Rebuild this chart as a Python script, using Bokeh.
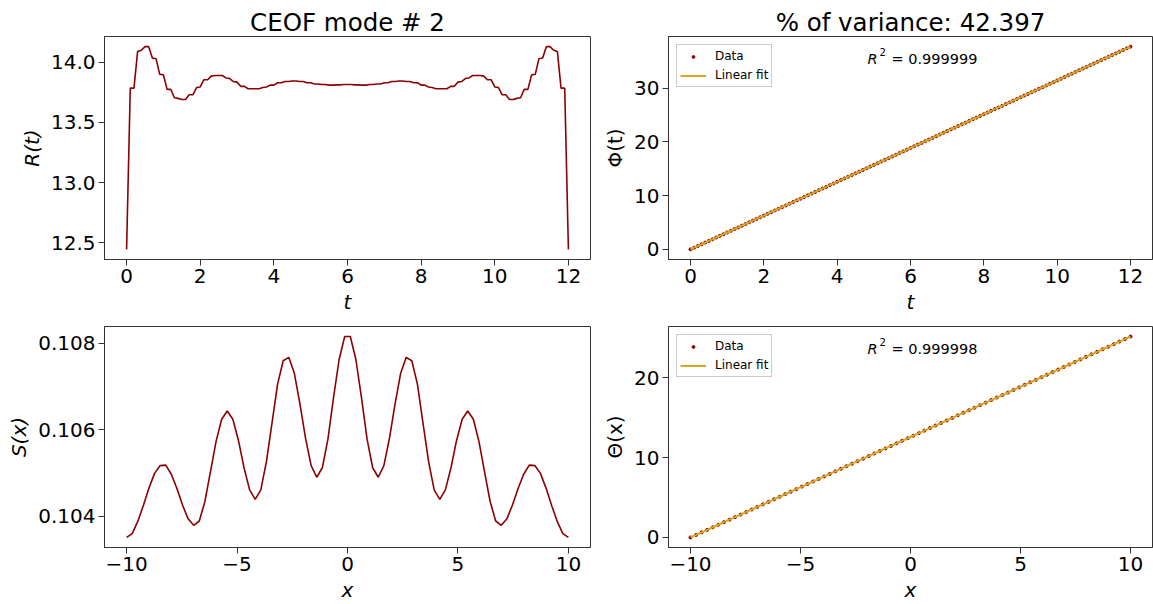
import numpy as np
from bokeh.plotting import figure
from bokeh.layouts import gridplot
from bokeh.models import Range1d, FixedTicker, PrintfTickFormatter, Label, Legend, LegendItem, ColumnDataSource
from bokeh.embed import file_html
from bokeh.resources import INLINE

# ---------------- data ----------------
t = np.linspace(0, 12, 121)
R_t = [12.445, 13.785, 13.785, 14.09, 14.10, 14.13, 14.13, 14.035, 14.03, 13.90,
       13.895, 13.775, 13.775, 13.705, 13.70, 13.69, 13.69, 13.73, 13.73, 13.79,
       13.795, 13.855, 13.855, 13.885, 13.89, 13.89, 13.89, 13.87, 13.865, 13.84,
       13.835, 13.80, 13.80, 13.78, 13.78, 13.78, 13.78, 13.79, 13.795, 13.81,
       13.81, 13.83, 13.83, 13.84, 13.84, 13.845, 13.845, 13.84, 13.84, 13.83,
       13.83, 13.82, 13.82, 13.815, 13.815, 13.81, 13.81, 13.812, 13.812, 13.815,
       13.815,
       13.815, 13.812, 13.812, 13.81, 13.81, 13.815, 13.815, 13.82, 13.82, 13.83,
       13.83, 13.84, 13.84, 13.845, 13.845, 13.84, 13.84, 13.83, 13.83, 13.81,
       13.81, 13.795, 13.79, 13.78, 13.78, 13.78, 13.78, 13.80, 13.80, 13.835,
       13.84, 13.865, 13.87, 13.89, 13.89, 13.89, 13.885, 13.855, 13.855, 13.795,
       13.79, 13.73, 13.73, 13.69, 13.69, 13.70, 13.705, 13.775, 13.775, 13.895,
       13.90, 14.03, 14.035, 14.13, 14.13, 14.10, 14.09, 13.785, 13.785, 12.445]

Phi_t = [0.00, 0.31, 0.63, 0.94, 1.26, 1.57, 1.88, 2.20, 2.51, 2.83,
         3.14, 3.46, 3.77, 4.08, 4.40, 4.71, 5.03, 5.34, 5.65, 5.97,
         6.28, 6.60, 6.91, 7.23, 7.54, 7.85, 8.17, 8.48, 8.80, 9.11,
         9.42, 9.74, 10.05, 10.37, 10.68, 11.00, 11.31, 11.62, 11.94, 12.25,
         12.57, 12.88, 13.19, 13.51, 13.82, 14.14, 14.45, 14.77, 15.08, 15.39,
         15.71, 16.02, 16.34, 16.65, 16.96, 17.28, 17.59, 17.91, 18.22, 18.54,
         18.85, 19.16, 19.48, 19.79, 20.11, 20.42, 20.73, 21.05, 21.36, 21.68,
         21.99, 22.31, 22.62, 22.93, 23.25, 23.56, 23.88, 24.19, 24.50, 24.82,
         25.13, 25.45, 25.76, 26.08, 26.39, 26.70, 27.02, 27.33, 27.65, 27.96,
         28.27, 28.59, 28.90, 29.22, 29.53, 29.85, 30.16, 30.47, 30.79, 31.10,
         31.42, 31.73, 32.04, 32.36, 32.67, 32.99, 33.30, 33.62, 33.93, 34.24,
         34.56, 34.87, 35.19, 35.50, 35.81, 36.13, 36.44, 36.76, 37.07, 37.38,
         37.70]

x = np.linspace(-10, 10, 80)
S_x = [0.10351, 0.10360, 0.10388, 0.10425, 0.10465, 0.10499, 0.10517, 0.10518, 0.10497, 0.10464,
       0.10426, 0.10394, 0.10379, 0.10389, 0.10434, 0.10503, 0.10573, 0.10624, 0.10643, 0.10624,
       0.10575, 0.10512, 0.10461, 0.10439, 0.10461, 0.10526, 0.10615, 0.10705, 0.10759, 0.10767,
       0.10730, 0.10659, 0.10580, 0.10517, 0.10490, 0.10512, 0.10578, 0.10674, 0.10762, 0.10815,
       0.10815, 0.10762, 0.10674, 0.10578, 0.10512, 0.10490, 0.10517, 0.10580, 0.10659, 0.10730,
       0.10767, 0.10759, 0.10705, 0.10615, 0.10526, 0.10461, 0.10439, 0.10461, 0.10512, 0.10575,
       0.10624, 0.10643, 0.10624, 0.10573, 0.10503, 0.10434, 0.10389, 0.10379, 0.10394, 0.10426,
       0.10464, 0.10497, 0.10518, 0.10517, 0.10499, 0.10465, 0.10425, 0.10388, 0.10360, 0.10351]

Theta_x = [0.00, 0.32, 0.64, 0.95, 1.27, 1.59, 1.91, 2.23, 2.54, 2.86,
           3.18, 3.50, 3.82, 4.14, 4.45, 4.77, 5.09, 5.41, 5.73, 6.04,
           6.36, 6.68, 7.00, 7.32, 7.63, 7.95, 8.27, 8.59, 8.91, 9.23,
           9.54, 9.86, 10.18, 10.50, 10.82, 11.13, 11.45, 11.77, 12.09, 12.41,
           12.72, 13.04, 13.36, 13.68, 14.00, 14.32, 14.63, 14.95, 15.27, 15.59,
           15.91, 16.22, 16.54, 16.86, 17.18, 17.50, 17.81, 18.13, 18.45, 18.77,
           19.09, 19.41, 19.72, 20.04, 20.36, 20.68, 21.00, 21.31, 21.63, 21.95,
           22.27, 22.59, 22.90, 23.22, 23.54, 23.86, 24.18, 24.50, 24.81, 25.13]

title_left = "CEOF mode # 2"
title_right = "% of variance: 42.397"
r2_phi = "0.999999"
r2_theta = "0.999998"

t_ticks = [0, 2, 4, 6, 8, 10, 12]
R_ticks = [12.5, 13.0, 13.5, 14.0]
Phi_ticks = [0, 10, 20, 30]
x_ticks = [-10, -5, 0, 5, 10]
S_ticks = [0.104, 0.106, 0.108]
Theta_ticks = [0, 10, 20]

# ---------------- styling ----------------
FONT = "DejaVu Sans"
DARKRED = "#8b0000"
FIT = "#daa520"
SPINE = "#333333"


def pad_range(vals):
    lo, hi = float(np.min(vals)), float(np.max(vals))
    d = 0.05 * (hi - lo)
    return Range1d(lo - d, hi + d)


def make_fig(w, h, xr, yr, left, right, top, bottom):
    p = figure(width=w, height=h, x_range=xr, y_range=yr, output_backend="svg",
               toolbar_location=None, min_border_left=left, min_border_right=right,
               min_border_top=top, min_border_bottom=bottom)
    p.xgrid.visible = False
    p.ygrid.visible = False
    p.outline_line_color = SPINE
    p.outline_line_width = 1
    p.outline_line_alpha = 1
    p.background_fill_color = "white"
    p.border_fill_color = "white"
    for ax in [p.xaxis[0], p.yaxis[0]]:
        ax.axis_line_color = SPINE
        ax.major_tick_line_color = SPINE
        ax.minor_tick_line_color = None
        ax.major_tick_out = 6
        ax.major_tick_in = 0
        ax.major_label_text_font = FONT
        ax.major_label_text_font_size = "20px"
        ax.major_label_text_color = "black"
        ax.major_label_standoff = 3
        ax.axis_label_text_font = FONT
        ax.axis_label_text_font_size = "20px"
        ax.axis_label_text_font_style = "italic"
        ax.axis_label_text_color = "black"
        ax.axis_label_standoff = 4
    p.title.text_font = FONT
    p.title.text_font_size = "24.5px"
    p.title.text_font_style = "normal"
    p.title.text_color = "black"
    p.title.align = "center"
    p.title.standoff = 0
    return p


def add_r2(p, xr, yr, val):
    xx = xr.start + 0.411 * (xr.end - xr.start)
    yy = yr.start + 0.9 * (yr.end - yr.start)
    common = dict(x=xx, y=yy, text_font=FONT, text_baseline="alphabetic",
                  text_align="left", text_color="black")
    p.add_layout(Label(text="R", text_font_style="italic", text_font_size="14.5px", **common))
    p.add_layout(Label(text="2", text_font_size="10px", x_offset=12, y_offset=7, **common))
    p.add_layout(Label(text="= " + val, text_font_size="14.5px", x_offset=24, **common))


def add_legend(p, r_pts, r_fit):
    leg = Legend(items=[LegendItem(label="Data", renderers=[r_pts]),
                        LegendItem(label="Linear fit", renderers=[r_fit])],
                 location="top_left")
    leg.label_text_font = FONT
    leg.label_text_font_size = "12px"
    leg.label_text_color = "black"
    leg.border_line_color = "#cccccc"
    leg.border_line_alpha = 1
    leg.background_fill_alpha = 0.8
    leg.padding = 3
    leg.spacing = 3
    leg.glyph_height = 7
    leg.glyph_width = 26
    leg.label_height = 16
    leg.label_standoff = 9
    leg.margin = 8
    p.add_layout(leg)


# ---------- top-left: R(t) ----------
xr1 = pad_range(t)
yr1 = pad_range(R_t)
p1 = make_fig(600, 320, xr1, yr1, 104, 10, 36, 61)
p1.title.text = title_left
p1.line(t, R_t, line_color=DARKRED, line_width=1.6)
p1.xaxis[0].ticker = FixedTicker(ticks=t_ticks)
p1.yaxis[0].ticker = FixedTicker(ticks=R_ticks)
p1.yaxis[0].formatter = PrintfTickFormatter(format="%.1f")
p1.xaxis[0].axis_label = "t"
p1.yaxis[0].axis_label = "R(t)"

# ---------- top-right: Phi(t) ----------
xr2 = pad_range(t)
yr2 = pad_range(Phi_t)
p2 = make_fig(553, 320, xr2, yr2, 68, 1, 36, 61)
p2.title.text = title_right
coef_phi = np.polyfit(t, Phi_t, 1)
src2 = ColumnDataSource(dict(t=t, phi=Phi_t, fit=np.polyval(coef_phi, t)))
pts2 = p2.scatter("t", "phi", source=src2, size=3, color=DARKRED)
fit2 = p2.line("t", "fit", source=src2, line_color=FIT, line_width=2)
p2.xaxis[0].ticker = FixedTicker(ticks=t_ticks)
p2.yaxis[0].ticker = FixedTicker(ticks=Phi_ticks)
p2.xaxis[0].axis_label = "t"
p2.yaxis[0].axis_label = "Φ(t)"
p2.yaxis[0].axis_label_text_font_style = "normal"
add_legend(p2, pts2, fit2)
add_r2(p2, xr2, yr2, r2_phi)

# ---------- bottom-left: S(x) ----------
xr3 = pad_range(x)
yr3 = pad_range(S_x)
p3 = make_fig(600, 284, xr3, yr3, 104, 10, 6, 55)
p3.line(x, S_x, line_color=DARKRED, line_width=1.6)
p3.xaxis[0].ticker = FixedTicker(ticks=x_ticks)
p3.xaxis[0].major_label_overrides = {-10: "−10", -5: "−5"}
p3.yaxis[0].ticker = FixedTicker(ticks=S_ticks)
p3.yaxis[0].formatter = PrintfTickFormatter(format="%.3f")
p3.xaxis[0].axis_label = "x"
p3.yaxis[0].axis_label = "S(x)"

# ---------- bottom-right: Theta(x) ----------
xr4 = pad_range(x)
yr4 = pad_range(Theta_x)
p4 = make_fig(553, 284, xr4, yr4, 68, 1, 6, 55)
coef_th = np.polyfit(x, Theta_x, 1)
src4 = ColumnDataSource(dict(x=x, th=Theta_x, fit=np.polyval(coef_th, x)))
pts4 = p4.scatter("x", "th", source=src4, size=3, color=DARKRED)
fit4 = p4.line("x", "fit", source=src4, line_color=FIT, line_width=2)
p4.xaxis[0].ticker = FixedTicker(ticks=x_ticks)
p4.xaxis[0].major_label_overrides = {-10: "−10", -5: "−5"}
p4.yaxis[0].ticker = FixedTicker(ticks=Theta_ticks)
p4.xaxis[0].axis_label = "x"
p4.yaxis[0].axis_label = "Θ(x)"
p4.yaxis[0].axis_label_text_font_style = "normal"
add_legend(p4, pts4, fit4)
add_r2(p4, xr4, yr4, r2_theta)

grid = gridplot([[p1, p2], [p3, p4]], toolbar_location=None)
open("out.html", "w").write(file_html(grid, INLINE))
